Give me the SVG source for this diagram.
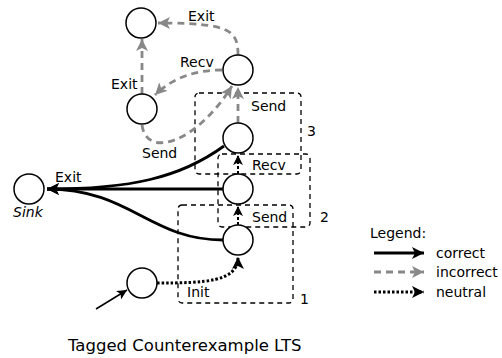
<svg xmlns="http://www.w3.org/2000/svg" width="502" height="358" viewBox="0 0 502 358">
<style>
text{font-family:"DejaVu Sans",sans-serif;font-size:14px;fill:#000}
.node{fill:#fff;stroke:#000;stroke-width:1.5}
.box{fill:none;stroke:#000;stroke-width:1.3;stroke-dasharray:5,4}
.ok{fill:none;stroke:#000;stroke-width:2.8}
.bad{fill:none;stroke:#888;stroke-width:2.8;stroke-dasharray:7,5}
.neu{fill:none;stroke:#000;stroke-width:3;stroke-dasharray:2.5,2}
.chain{fill:none;stroke:#000;stroke-width:2;stroke-dasharray:3,2}
.thin{fill:none;stroke:#000;stroke-width:1.5}
</style>
<defs>
<marker id="ab" markerWidth="14" markerHeight="12" refX="12" refY="6" orient="auto" markerUnits="userSpaceOnUse"><path d="M0,0 L12,6 L0,12 L3,6 z" fill="#000"/></marker>
<marker id="ag" markerWidth="14" markerHeight="12" refX="12" refY="6" orient="auto" markerUnits="userSpaceOnUse"><path d="M0,0 L12,6 L0,12 L3,6 z" fill="#888"/></marker>
<marker id="as" markerWidth="12" markerHeight="10" refX="10" refY="5" orient="auto" markerUnits="userSpaceOnUse"><path d="M0,0 L10,5 L0,10 L2.5,5 z" fill="#000"/></marker>
</defs>
<g id="boxes">
<rect class="box" x="195" y="93" width="106" height="81" rx="4"/>
<rect class="box" x="218" y="154" width="92" height="73" rx="4"/>
<rect class="box" x="178" y="205" width="115" height="98" rx="4"/>
<text x="307" y="136">3</text>
<text x="320" y="222">2</text>
<text x="300" y="304">1</text>
</g>
<g id="connectors">
<path class="thin" d="M96,309 L127,290" marker-end="url(#as)"/>
<path class="neu" d="M157,283 C205,283 238,282 238,257" marker-end="url(#ab)"/>
<path class="chain" d="M238,225 L238,206" marker-end="url(#as)"/>
<path class="chain" d="M238,174 L238,155" marker-end="url(#as)"/>
<path class="ok" d="M224,146 C180,178 130,189 47,189" marker-end="url(#ab)"/>
<path class="ok" d="M223,189 L47,189" marker-end="url(#ab)"/>
<path class="ok" d="M223,240 C150,240 130,189 47,189"/>
<path class="bad" d="M238,123 L238,87" marker-end="url(#ag)"/>
<path class="bad" d="M238,55 C238,30 230,23 158,23" marker-end="url(#ag)"/>
<path class="bad" d="M222,70 C195,70 172,78 155,95" marker-end="url(#ag)"/>
<path class="bad" d="M142,94 L142,39" marker-end="url(#ag)"/>
<path class="bad" d="M142,125 C146,158 195,145 232,86" marker-end="url(#ag)"/>
<text x="55" y="182">Exit</text>
<text x="187" y="297">Init</text>
<text x="252" y="222">Send</text>
<text x="252" y="170">Recv</text>
<text x="251" y="111">Send</text>
<text x="188" y="21">Exit</text>
<text x="180" y="67">Recv</text>
<text x="111" y="89">Exit</text>
<text x="142" y="158">Send</text>
</g>
<g id="n_top"><circle class="node" cx="141" cy="23" r="15"/></g>
<g id="n_left"><circle class="node" cx="142" cy="109" r="15"/></g>
<g id="n_right"><circle class="node" cx="238" cy="70" r="15"/></g>
<g id="n_c3"><circle class="node" cx="238" cy="138" r="15"/></g>
<g id="n_c2"><circle class="node" cx="238" cy="189" r="15"/></g>
<g id="n_c1"><circle class="node" cx="238" cy="240" r="15"/></g>
<g id="n_init"><circle class="node" cx="142" cy="283" r="15"/></g>
<g id="n_sink"><circle class="node" cx="29" cy="189" r="15"/><text x="13" y="217" font-style="italic">Sink</text></g>
<g id="legend">
<text x="370" y="238">Legend:</text>
<path class="ok" d="M374,253 L424,253" marker-end="url(#ab)"/>
<path class="bad" d="M374,272 L424,272" marker-end="url(#ag)"/>
<path class="neu" d="M374,292 L424,292" marker-end="url(#ab)"/>
<text x="436" y="258">correct</text>
<text x="436" y="277">incorrect</text>
<text x="436" y="297">neutral</text>
</g>
<text x="68" y="351" style="font-size:16.5px">Tagged Counterexample LTS</text>
</svg>
